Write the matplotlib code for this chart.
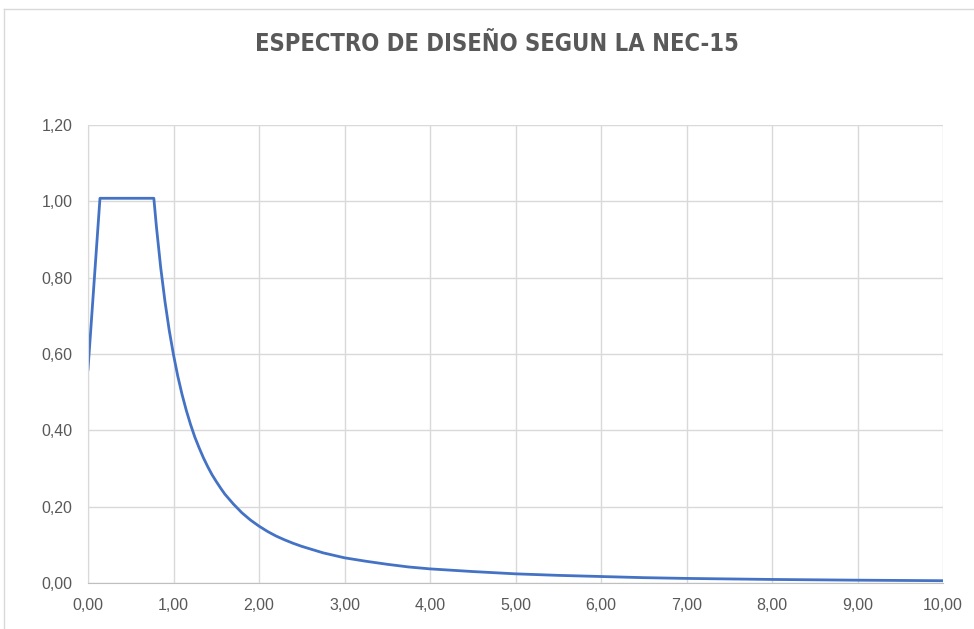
import matplotlib
matplotlib.use("Agg")
import matplotlib.pyplot as plt
from matplotlib.lines import Line2D
from matplotlib.ticker import FuncFormatter, MultipleLocator

# Periodo T (s) y aceleracion espectral Sa (g)
periodo = [0.00, 0.14, 0.77, 0.80, 0.85, 0.90, 0.95, 1.00, 1.05, 1.10, 1.15,
           1.20, 1.25, 1.30, 1.35, 1.40, 1.45, 1.50, 1.55, 1.60, 1.70, 1.80,
           1.90, 2.00, 2.10, 2.20, 2.30, 2.40, 2.50, 2.75, 3.00, 3.25, 3.50,
           3.75, 4.00, 4.50, 5.00, 5.50, 6.00, 6.50, 7.00, 8.00, 9.00, 10.00]
sa = [0.560, 1.008, 1.008, 0.934, 0.827, 0.738, 0.662, 0.598, 0.542, 0.494,
      0.452, 0.415, 0.382, 0.354, 0.328, 0.305, 0.284, 0.266, 0.249, 0.233,
      0.207, 0.184, 0.165, 0.149, 0.135, 0.123, 0.113, 0.104, 0.096, 0.079,
      0.066, 0.057, 0.049, 0.042, 0.037, 0.030, 0.024, 0.020, 0.017, 0.014,
      0.012, 0.0093, 0.0074, 0.006]

titulo = "ESPECTRO DE DISEÑO SEGUN LA NEC-15"

gris = "#595959"
fig = plt.figure(figsize=(9.74, 6.29), dpi=100)
ax = fig.add_axes([88/974, 1 - 583/629, (943 - 88)/974, (583 - 125)/629])

ax.plot(periodo, sa, color="#4472C4", linewidth=2.0, solid_joinstyle="round")

ax.set_xlim(0, 10)
ax.set_ylim(0, 1.2)
ax.xaxis.set_major_locator(MultipleLocator(1))
ax.yaxis.set_major_locator(MultipleLocator(0.2))
coma = FuncFormatter(lambda v, p: f"{v:.2f}".replace(".", ","))
ax.xaxis.set_major_formatter(coma)
ax.yaxis.set_major_formatter(coma)

ax.grid(True, color="#d9d9d9", linewidth=1.0)
ax.set_axisbelow(True)
for s in ["top", "right"]:
    ax.spines[s].set_visible(False)
ax.spines["left"].set_color("#d9d9d9")
ax.spines["bottom"].set_color("#bfbfbf")
ax.tick_params(length=0, labelsize=11.5, labelcolor=gris, pad=11)
for lab in ax.get_xticklabels() + ax.get_yticklabels():
    lab.set_family("Liberation Sans")

fig.text(0.51, 1 - 44/629, titulo, ha="center", va="center", fontsize=17,
         fontweight="bold", fontstretch="condensed", color=gris,
         family=["DejaVu Sans"])

# marco del area del grafico
fig.add_artist(Line2D([4/974, 1], [1 - 9/629, 1 - 9/629], color="#d9d9d9", linewidth=1))
fig.add_artist(Line2D([4/974, 4/974], [0, 1 - 9/629], color="#d9d9d9", linewidth=1))

fig.savefig("out.png", dpi=100)
